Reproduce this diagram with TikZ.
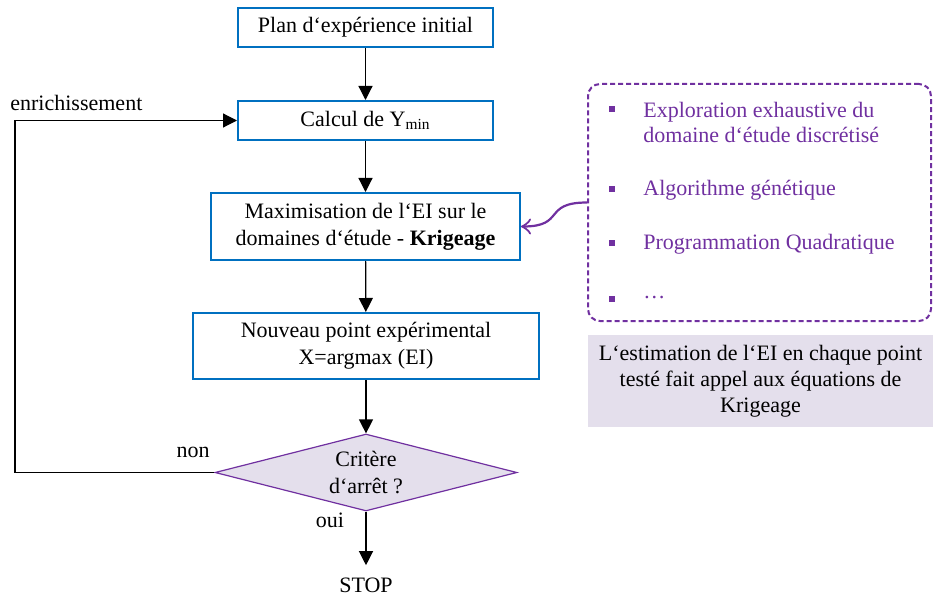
\documentclass[tikz,border=0pt]{standalone}
\usepackage{fontspec}
\setmainfont{Liberation Serif}
\usetikzlibrary{arrows.meta, shapes.geometric}
\definecolor{boxblue}{HTML}{0070C0}
\definecolor{krigpurple}{HTML}{7030A0}
\definecolor{lavender}{HTML}{E4DFEC}
\newcommand{\fsz}{\fontsize{11}{13.5}\selectfont}
\tikzset{
  stepbox/.style={rectangle, draw=boxblue, line width=1pt, fill=white,
                  minimum width=#1, align=center, inner sep=2pt},
  stepbox/.default=127.5pt,
  testbox/.style={diamond, draw=krigpurple, fill=lavender, line width=0.6pt,
                  aspect=3.9, minimum width=151pt, minimum height=38.5pt,
                  inner sep=0pt, align=center},
  optbox/.style={rectangle, rounded corners=6pt, draw=krigpurple, line width=1pt,
                 dash pattern=on 2.5pt off 1.5pt, minimum width=171.5pt,
                 minimum height=118.5pt},
  itm/.style={text=krigpurple, align=left, anchor=west, inner sep=0pt,
              font=\fontsize{11}{12.5}\selectfont},
  bul/.style={rectangle, fill=krigpurple, minimum size=3pt, inner sep=0pt},
  notebox/.style={rectangle, fill=lavender, minimum width=172.5pt,
                  minimum height=46pt, align=center, inner sep=0pt,
                  font=\fontsize{11}{13}\selectfont},
  lbl/.style={inner sep=0pt},
  arr/.style={-{Triangle[length=7pt, width=7pt]}, line width=0.6pt, #1},
  arr/.default=black,
}
\begin{document}
\begin{tikzpicture}[x=0.5pt, y=-0.5pt, every node/.style={font=\fsz}]
  \useasboundingbox (0,0) rectangle (933,599);

  % main loop - centre column
  \node[stepbox, minimum height=19.5pt] (plan) at (365.5,27.5) {Plan d‘expérience initial};
  \node[stepbox, minimum height=19.5pt] (calc) at (365.5,120.5) {Calcul de Y\textsubscript{min}};
  \node[stepbox=154.5pt, minimum height=33.5pt] (maxi) at (365.5,226.5)
    {Maximisation de l‘EI sur le\\domaines d‘étude - \textbf{Krigeage}};
  \node[stepbox=173pt, minimum height=33pt] (newpt) at (366,346)
    {Nouveau point expérimental\\X=argmax (EI)};
  \node[testbox] (crit) at (366,472.5) {Critère\\d‘arrêt ?};
  \node[inner sep=6pt] (stop) at (366,585) {STOP};

  % optimisation methods - right
  \node[optbox] (opts) at (759.5,202.5) {};
  \node[itm] (it1) at (643,122) {Exploration exhaustive du\\domaine d‘étude discrétisé};
  \node[itm] (it2) at (643,190) {Algorithme génétique};
  \node[itm] (it3) at (643,244) {Programmation Quadratique};
  \node[itm] (it4) at (643,298) {…};
  \foreach \y [count=\i] in {109,189,243,299}
    \node[bul] (b\i) at (612,\y) {};

  \node[notebox] (note) at (760.5,381)
    {L‘estimation de l‘EI en chaque point\\testé fait appel aux équations de\\Krigeage};

  % labels
  \node[lbl, anchor=west] (enr) at (10,103) {enrichissement};
  \node[lbl] (non) at (193,452) {non};
  \node[lbl] (oui) at (330,520) {oui};

  % arrows
  \draw[arr] (plan) -- (calc);
  \draw[arr] (calc) -- (maxi);
  \draw[arr] (maxi) -- (newpt);
  \draw[arr] (newpt) -- (crit);
  \draw[arr] (crit) -- (stop);
  \coordinate (loop) at (15,472.5);
  \draw[arr] (crit.west) -- (loop) |- (calc.west);
  \draw[-{Classical TikZ Rightarrow[length=5pt, width=8pt]}, krigpurple, line width=1.1pt]
    (opts.west) .. controls +(-45,0) and +(45,0) .. (maxi.east);
\end{tikzpicture}
\end{document}
